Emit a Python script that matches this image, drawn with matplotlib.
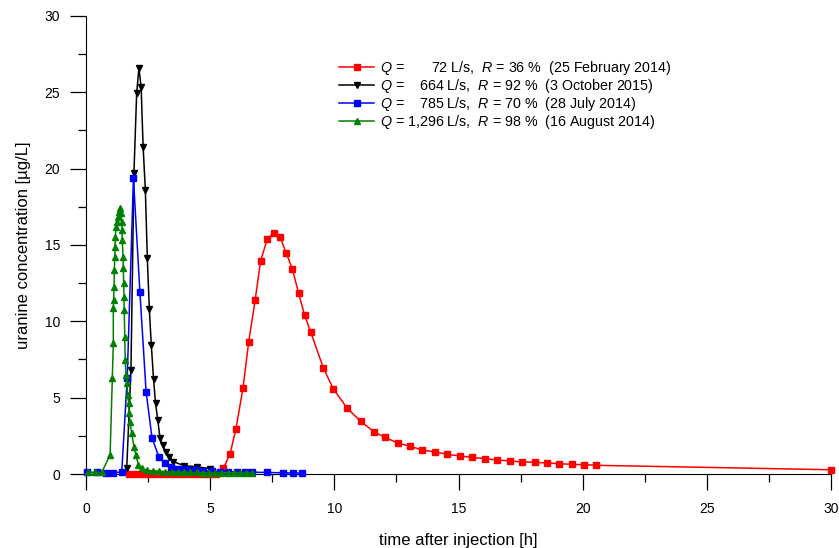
import matplotlib
matplotlib.use('Agg')
import matplotlib.pyplot as plt
from matplotlib.ticker import MultipleLocator

plt.rcParams['font.family'] = ['Liberation Sans', 'DejaVu Sans']
plt.rcParams['mathtext.fontset'] = 'custom'
plt.rcParams['mathtext.rm'] = 'Liberation Sans'
plt.rcParams['mathtext.it'] = 'Liberation Sans:italic'

# 25 February 2014, Q = 72 L/s
red_t = [1.75, 2.0, 2.25, 2.5, 2.75, 3.0, 3.25, 3.5, 3.75, 4.0, 4.25, 4.5, 4.75, 5.0, 5.25,
         5.53, 5.80, 6.04, 6.32, 6.55, 6.81, 7.03, 7.30, 7.56, 7.81, 8.07, 8.31, 8.56, 8.80,
         9.05, 9.56, 9.96, 10.51, 11.06, 11.61, 12.04, 12.55, 13.06, 13.54, 14.07, 14.55,
         15.06, 15.56, 16.07, 16.56, 17.08, 17.55, 18.06, 18.55, 19.06, 19.56, 20.06, 20.55, 30.0]
red_c = [0.02, 0.02, 0.02, 0.02, 0.02, 0.02, 0.02, 0.02, 0.02, 0.02, 0.02, 0.02, 0.02, 0.02, 0.02,
         0.37, 1.31, 2.97, 5.61, 8.64, 11.37, 13.95, 15.39, 15.80, 15.52, 14.45, 13.42, 11.85, 10.41,
         9.28, 6.94, 5.57, 4.32, 3.45, 2.75, 2.40, 2.03, 1.81, 1.57, 1.44, 1.29,
         1.18, 1.09, 1.00, 0.92, 0.85, 0.79, 0.77, 0.72, 0.68, 0.63, 0.61, 0.57, 0.28]

# 3 October 2015, Q = 664 L/s
black_t = [1.64, 1.81, 1.93, 2.04, 2.13, 2.22, 2.30, 2.39, 2.47, 2.55, 2.63, 2.72, 2.80,
           2.89, 2.98, 3.09, 3.21, 3.36, 3.52, 3.96, 4.46, 5.0]
black_c = [0.4, 6.8, 19.69, 24.93, 26.57, 25.36, 21.43, 18.60, 14.12, 10.78, 8.45, 6.20, 4.63,
           3.54, 2.34, 1.90, 1.46, 1.13, 0.81, 0.54, 0.48, 0.35]

# 28 July 2014, Q = 785 L/s
blue_t = [0.03, 0.43, 0.81, 1.07, 1.44, 1.66, 1.91, 2.17, 2.42, 2.66, 2.93, 3.19, 3.42, 3.68,
          3.95, 4.16, 4.43, 4.72, 5.06, 5.40, 5.71, 6.07, 6.40, 6.67, 7.28, 7.95, 8.32, 8.69]
blue_c = [0.1, 0.1, 0.05, 0.05, 0.15, 6.3, 19.36, 11.94, 5.39, 2.34, 1.14, 0.70, 0.48, 0.33,
          0.31, 0.26, 0.25, 0.22, 0.18, 0.16, 0.15, 0.14, 0.13, 0.12, 0.10, 0.08, 0.07, 0.06]

# 16 August 2014, Q = 1,296 L/s
green_t = [0.08, 0.36, 0.63, 0.97, 1.06, 1.10, 1.10, 1.11, 1.13, 1.14, 1.16, 1.17, 1.18, 1.21,
           1.25, 1.30, 1.34, 1.38, 1.42, 1.44, 1.45, 1.46, 1.49, 1.50, 1.52, 1.53, 1.54, 1.56,
           1.58, 1.61, 1.65, 1.68, 1.72, 1.74, 1.77, 1.84, 1.93, 2.01, 2.11, 2.24,
           2.45, 2.7, 2.95, 3.2, 3.45, 3.7, 3.95, 4.2, 4.45, 4.7, 4.95, 5.2, 5.45, 5.7, 5.95,
           6.2, 6.45, 6.7]
green_c = [0.1, 0.1, 0.1, 1.24, 6.27, 8.56, 10.85, 11.4, 12.27, 13.36, 14.23, 14.89, 15.54, 16.20,
           16.52, 16.85, 17.18, 17.4, 17.07, 16.52, 15.98, 15.32, 14.23, 13.47, 12.49, 11.61, 10.74, 8.99,
           7.47, 6.48, 5.94, 5.17, 4.63, 3.97, 3.43, 2.66, 1.79, 1.24, 0.59, 0.37,
           0.25, 0.2, 0.18, 0.15, 0.13, 0.12, 0.11, 0.1, 0.1, 0.09, 0.09, 0.08, 0.08, 0.08, 0.07,
           0.07, 0.07, 0.06]

labels = [
    r'$Q$ =       72 L/s,  $R$ = 36 %  (25 February 2014)',
    r'$Q$ =    664 L/s,  $R$ = 92 %  (3 October 2015)',
    r'$Q$ =    785 L/s,  $R$ = 70 %  (28 July 2014)',
    r'$Q$ = 1,296 L/s,  $R$ = 98 %  (16 August 2014)',
]

fig = plt.figure(figsize=(8.39, 5.48), dpi=100)
ax = fig.add_axes([0.1025, 0.135, 0.888, 0.836])

series = [
    (red_t, red_c, '#ff0000', 's'),
    (black_t, black_c, '#000000', 'v'),
    (blue_t, blue_c, '#0000ff', 's'),
    (green_t, green_c, '#008000', '^'),
]
for (t, c, col, mk), lab in zip(series, labels):
    ax.plot(t, c, '-', color=col, marker=mk, markersize=5, linewidth=1.1,
            label=lab, clip_on=False, zorder=3)

ax.set_xlim(0, 30)
ax.set_ylim(0, 30)
ax.xaxis.set_major_locator(MultipleLocator(5))
ax.xaxis.set_minor_locator(MultipleLocator(2.5))
ax.yaxis.set_major_locator(MultipleLocator(5))
ax.yaxis.set_minor_locator(MultipleLocator(2.5))
ax.spines['top'].set_visible(False)
ax.spines['right'].set_visible(False)
ax.tick_params(which='major', direction='out', length=11.5, width=0.9, labelsize=10, pad=7)
ax.tick_params(which='minor', direction='out', length=6, width=0.9)
ax.tick_params(axis='x', which='major', pad=9)

ax.set_xlabel('time after injection [h]', fontsize=12, labelpad=12)
ax.set_ylabel('uranine concentration [µg/L]', fontsize=12, labelpad=10)

ax.legend(loc='upper left', bbox_to_anchor=(0.33, 0.921), frameon=False, fontsize=10.3,
          borderpad=0, labelspacing=0.0, handlelength=2.45, handletextpad=0.4)

fig.savefig('out.png', dpi=100)
